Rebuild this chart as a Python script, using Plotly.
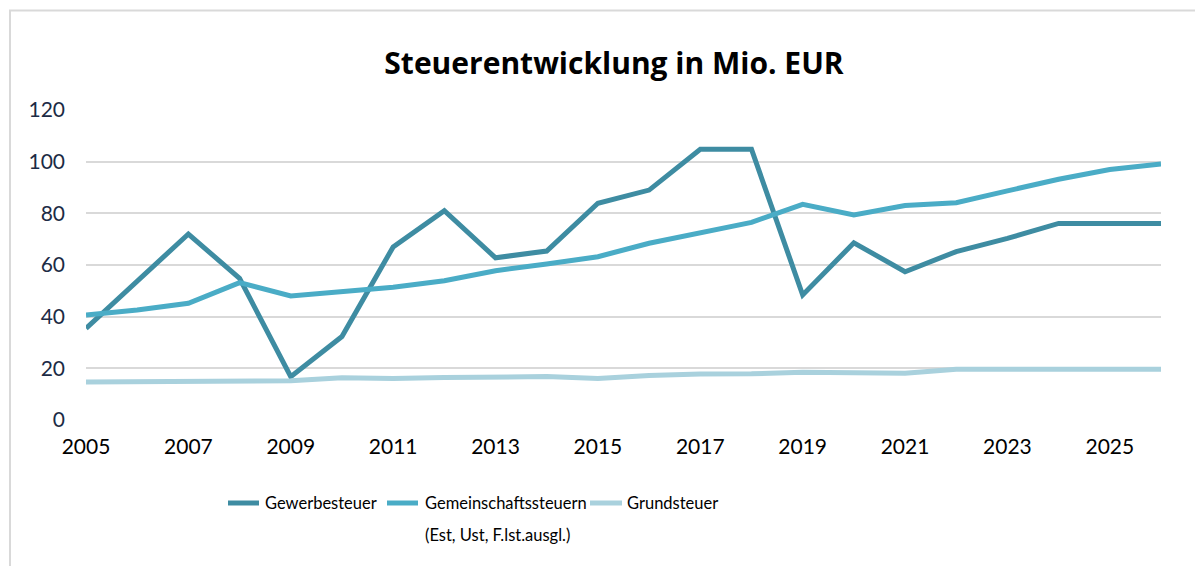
import plotly.graph_objects as go

# ── Data ─────────────────────────────────────────────────────────────────────
YEARS = list(range(2005, 2027))

GEWERBE = [35.5, 53.5, 72.0, 54.8, 16.8, 32.3, 67.0, 81.0, 62.8, 65.4, 83.9,
           89.0, 104.8, 104.8, 48.4, 68.6, 57.4, 65.2, 70.3, 76.1, 76.1, 76.1]
GEMEINSCHAFT = [40.6, 42.6, 45.2, 53.2, 48.0, 49.7, 51.4, 53.9, 57.8, 60.4, 63.2,
                68.4, 72.3, 76.5, 83.5, 79.4, 83.0, 84.1, 88.7, 93.2, 97.0, 99.1]
GRUND = [14.7, 14.8, 14.7, 14.7, 15.2, 16.4, 16.1, 16.5, 16.5, 16.8, 16.1,
         17.2, 17.8, 17.9, 18.5, 18.5, 18.1, 19.6, 19.6, 19.6, 19.6, 19.6]

NAMES = ["Gewerbesteuer", "Gemeinschaftssteuern", "Grundsteuer"]
SUBNAMES = ["", "(Est, Ust, F.lst.ausgl.)", ""]
COLORS = ["#3e8ca2", "#4aacc6", "#a9d1dd"]

TITLE = "<b>Steuerentwicklung in Mio. EUR</b>"
FONT = "Lato, sans-serif"

# ── Geometry (screen pixels; page body has an 8px margin) ────────────────────
OFF = 8
W, H = 1203, 566
L, T = 86 - OFF, 110 - OFF
PW, PH = 1075, 310
R, B = W - L - PW, H - T - PH

def px_x(x):
    return (x - OFF - L) / PW

def px_y(y):
    return (T + PH - (y - OFF)) / PH

fig = go.Figure()
for name, ys, col in zip(NAMES, [GEWERBE, GEMEINSCHAFT, GRUND], COLORS):
    fig.add_trace(go.Scatter(
        x=YEARS, y=ys, name=name, mode="lines",
        line=dict(color=col, width=5),
    ))

fig.update_layout(
    width=W, height=H,
    margin=dict(l=L, r=R, t=T, b=B),
    paper_bgcolor="white", plot_bgcolor="white",
    font=dict(family=FONT, color="black"),
    title=dict(text=TITLE, x=(614 - OFF) / W, xanchor="center",
               y=1 - (63 - OFF) / H, yanchor="middle",
               font=dict(size=30, color="black", family="Open Sans, sans-serif")),
    xaxis=dict(range=[2005, 2026], tick0=2005, dtick=2, showgrid=False, zeroline=False,
               showline=False, tickfont=dict(size=21, color="black"), ticklabelstandoff=12),
    yaxis=dict(range=[0, 120], tick0=0, dtick=20, showgrid=True, gridcolor="#d9d9d9",
               gridwidth=2, zeroline=False, showline=False,
               tickfont=dict(size=21, color="#1c2b45"), ticklabelstandoff=20),
    showlegend=False,
)

# outer chart border (top and left edges visible)
fig.add_shape(type="rect", xref="paper", yref="paper",
              x0=px_x(10), x1=px_x(1202), y0=px_y(620), y1=px_y(10.5),
              line=dict(color="#d9d9d9", width=2), layer="below")

# ── Legend (drawn by hand to match spacing) ──────────────────────────────────
LEG_X = [(226, 261, 263), (385, 420, 423), (588, 624, 625)]
LEG_Y = 503
for (x0, x1, tx), name, sub, col in zip(LEG_X, NAMES, SUBNAMES, COLORS):
    fig.add_shape(type="line", xref="paper", yref="paper",
                  x0=px_x(x0 + 2), x1=px_x(x1 - 2), y0=px_y(LEG_Y), y1=px_y(LEG_Y),
                  line=dict(color=col, width=5))
    fig.add_annotation(text=name, xref="paper", yref="paper", x=px_x(tx), y=px_y(LEG_Y),
                       xanchor="left", yanchor="middle", showarrow=False,
                       font=dict(size=16.5, color="black", family=FONT))
    if sub:
        fig.add_annotation(text=sub, xref="paper", yref="paper", x=px_x(tx), y=px_y(535),
                           xanchor="left", yanchor="middle", showarrow=False,
                           font=dict(size=16.5, color="black", family=FONT))

fig.write_html("out.html")
